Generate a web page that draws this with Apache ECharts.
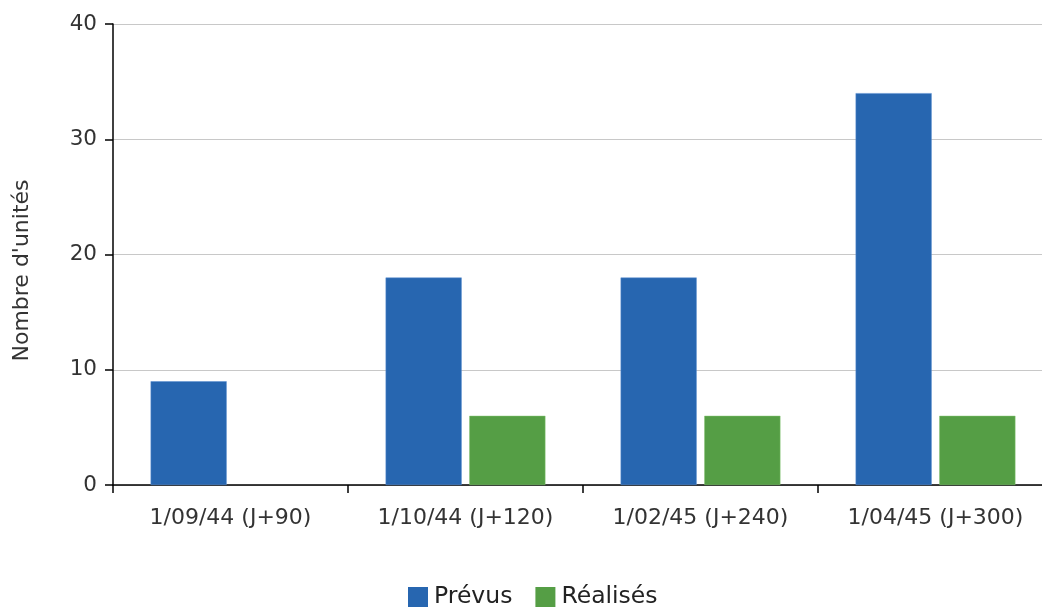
<!DOCTYPE html>
<html><head><meta charset="utf-8">
<script src="https://cdn.jsdelivr.net/npm/echarts@6/dist/echarts.min.js"></script>
<style>html,body{margin:0;padding:0;background:#fff;overflow:hidden}#c{width:1070px;height:607px}</style>
</head><body><div id="c"></div>
<script>
const categories = ['1/09/44 (J+90)', '1/10/44 (J+120)', '1/02/45 (J+240)', '1/04/45 (J+300)'];
const prevus = [9, 18, 18, 34];
const realises = [null, 6, 6, 6];
const yTicks = [0, 10, 20, 30, 40];

const font = '"DejaVu Sans", sans-serif';
const chart = echarts.init(document.getElementById('c'));
chart.setOption({
  animation: false,
  textStyle: { fontFamily: font },
  grid: { left: 113, top: 24, width: 940, bottom: 122, containLabel: false },
  legend: {
    top: 580, left: 403, itemWidth: 20, itemHeight: 20, itemGap: 23,
    icon: 'rect',
    itemStyle: { borderWidth: 0 },
    textStyle: { fontSize: 23.5, color: '#222', fontFamily: font, padding: [0, 0, 0, 1] },
    data: ['Prévus', 'Réalisés']
  },
  xAxis: {
    type: 'category', data: categories,
    axisLine: { lineStyle: { color: '#000', width: 1.5 } },
    axisTick: { show: true, length: 8, alignWithLabel: false, lineStyle: { color: '#000', width: 1.5 } },
    axisLabel: { fontSize: 22, color: '#333', margin: 22, fontFamily: font }
  },
  yAxis: {
    type: 'value', min: yTicks[0], max: yTicks[yTicks.length - 1], interval: 10,
    name: "Nombre d'unités", nameLocation: 'middle', nameGap: 80, nameRotate: 90,
    nameTextStyle: { fontSize: 22, color: '#333', fontFamily: font, padding: [0, 32, 0, 0] },
    axisLine: { show: true, lineStyle: { color: '#000', width: 1.5 } },
    axisTick: { show: true, length: 8, lineStyle: { color: '#000', width: 1.5 } },
    axisLabel: { fontSize: 21.5, color: '#333', margin: 16, fontFamily: font, padding: [4, 0, 0, 0] },
    splitLine: { lineStyle: { color: '#c8c8c8', width: 1 } }
  },
  series: [
    { name: 'Prévus', type: 'bar', data: prevus, barGap: '10%', barCategoryGap: '32%',
      itemStyle: { color: '#2766b0', borderColor: '#5a8fd0', borderWidth: 0.5 } },
    { name: 'Réalisés', type: 'bar', data: realises,
      itemStyle: { color: '#559e45', borderColor: '#7cc06c', borderWidth: 0.5 } }
  ]
});
</script></body></html>
